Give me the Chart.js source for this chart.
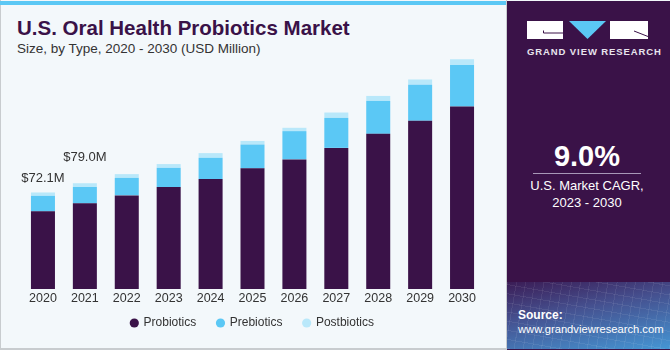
<!DOCTYPE html>
<html>
<head>
<meta charset="utf-8">
<script src="https://cdn.jsdelivr.net/npm/chart.js@4.4.0/dist/chart.umd.min.js"></script>
<style>
html,body{margin:0;padding:0;}
body{width:670px;height:350px;position:relative;overflow:hidden;background:#f3f8fb;font-family:"Liberation Sans",Arial,sans-serif;}
#frame{position:absolute;left:0;top:0;width:507px;height:350px;border-left:1px solid #c8cccf;border-bottom:2px solid #c8cccf;border-right:1px solid #c8cccf;box-sizing:border-box;}
#stripe{position:absolute;left:0;top:1px;width:506px;height:4px;background:#5bc8f5;}
#title{position:absolute;left:17px;top:18px;font-size:20.5px;line-height:20px;font-weight:bold;color:#3a1248;white-space:nowrap;}
#subtitle{position:absolute;left:17px;top:41px;font-size:13.5px;line-height:16px;color:#333;white-space:nowrap;}
#chartbox{position:absolute;left:0;top:0;width:500px;height:350px;}
#panel{position:absolute;left:507px;top:1px;width:163px;height:349px;background:#3a1248;}
#logo{position:absolute;left:0;top:0;}
#brand{position:absolute;left:20px;top:45px;width:121px;text-align:center;font-size:9.5px;line-height:12px;font-weight:bold;color:#e8e4ee;letter-spacing:0.9px;white-space:nowrap;}
#cagr{position:absolute;left:0;top:140px;width:160px;text-align:center;font-size:29px;line-height:30px;font-weight:bold;color:#fff;}
#divider{position:absolute;left:26px;top:172px;width:108px;height:1px;background:#a898b8;}
#cagrtxt{position:absolute;left:0;top:177px;width:160px;text-align:center;font-size:13px;line-height:16.5px;color:#fff;}
#source{position:absolute;left:0;top:281px;width:163px;height:67px;
 background:
  repeating-linear-gradient(100deg, rgba(255,255,255,0.07) 0 1px, transparent 1px 9px),
  repeating-linear-gradient(10deg, rgba(255,255,255,0.07) 0 1px, transparent 1px 9px),
  linear-gradient(170deg,#3b1c55 0%,#45508f 40%,#4596d4 100%);}
#src1{position:absolute;left:11px;top:26px;font-size:12px;line-height:15px;font-weight:bold;color:#fff;}
#src2{position:absolute;left:11px;top:40px;font-size:11.2px;line-height:15px;color:#fff;white-space:nowrap;}
</style>
</head>
<body>
<div id="frame"></div>
<div id="stripe"></div>
<div id="title">U.S. Oral Health Probiotics Market</div>
<div id="subtitle">Size, by Type, 2020 - 2030 (USD Million)</div>
<div id="chartbox"><canvas id="c" width="500" height="350"></canvas></div>
<div id="panel">
  <svg id="logo" width="163" height="45" xmlns="http://www.w3.org/2000/svg">
    <rect x="20" y="20" width="36" height="18" fill="#ffffff"/>
    <path d="M36.5 29.5 L36.5 32 L56 32" stroke="#3a1248" stroke-width="1" fill="none"/>
    <polygon points="62,20 99,20 80.5,38" fill="#5bc8f5"/>
    <rect x="103" y="20" width="38" height="18" fill="#ffffff"/>
    <path d="M127 30 L141 35.5" stroke="#3a1248" stroke-width="1" fill="none"/>
  </svg>
  <div id="brand">GRAND VIEW RESEARCH</div>
  <div id="cagr">9.0%</div>
  <div id="divider"></div>
  <div id="cagrtxt">U.S. Market CAGR,<br>2023 - 2030</div>
  <div id="source">
    <div id="src1">Source:</div>
    <div id="src2">www.grandviewresearch.com</div>
  </div>
</div>
<script>
const years = ['2020','2021','2022','2023','2024','2025','2026','2027','2028','2029','2030'];
const probiotics  = [58.0, 64.0, 69.9, 76.1, 82.1, 90.1, 96.8, 105.4, 115.9, 125.6, 136.3];
const prebiotics  = [11.6, 12.2, 13.1, 14.4, 15.9, 17.8, 21.1, 22.4, 24.6, 26.9, 31.0];
const postbiotics = [2.5, 2.8, 2.8, 2.8, 3.5, 2.7, 2.5, 4.0, 3.7, 4.0, 4.3];
const seriesNames = ['Probiotics','Prebiotics','Postbiotics'];
const seriesColors = ['#3a1248','#5bc8f5','#b9e8fa'];
const labeledYears = ['2020','2021'];
const labelOffsets = [14, 26];

const valueLabels = {
  id: 'valueLabels',
  afterDatasetsDraw(chart) {
    const ctx = chart.ctx;
    const meta = chart.getDatasetMeta(2);
    labeledYears.forEach((yr, k) => {
      const i = years.indexOf(yr);
      const total = probiotics[i] + prebiotics[i] + postbiotics[i];
      const bar = meta.data[i];
      ctx.save();
      ctx.font = '13px "Liberation Sans", Arial, sans-serif';
      ctx.fillStyle = '#333333';
      ctx.textAlign = 'center';
      ctx.textBaseline = 'middle';
      ctx.fillText('$' + total.toFixed(1) + 'M', bar.x, bar.y - labelOffsets[k]);
      ctx.restore();
    });
  }
};

// pull the legend up a little, closer to the axis labels
const legendShift = {
  id: 'legendShift',
  afterLayout(chart) {
    const lg = chart.legend;
    if (lg) { lg.top -= 10; lg.bottom -= 10; }
  }
};

new Chart(document.getElementById('c'), {
  type: 'bar',
  data: {
    labels: years,
    datasets: [
      {label: seriesNames[0], data: probiotics, backgroundColor: seriesColors[0], borderWidth: 0},
      {label: seriesNames[1], data: prebiotics, backgroundColor: seriesColors[1], borderWidth: 0},
      {label: seriesNames[2], data: postbiotics, backgroundColor: seriesColors[2], borderWidth: 0}
    ]
  },
  options: {
    responsive: false,
    animation: false,
    layout: {padding: {top: 48, left: 22, right: 17, bottom: 1}},
    datasets: {bar: {categoryPercentage: 1.0, barPercentage: 0.573}},
    scales: {
      x: {
        stacked: true,
        grid: {display: false, drawTicks: false},
        border: {display: false},
        ticks: {color: '#333333', font: {family: '"Liberation Sans", Arial, sans-serif', size: 12.5}, padding: 2},
        afterFit: (s) => { s.height = 17; }
      },
      y: {stacked: true, display: false, min: 0, max: 180}
    },
    plugins: {
      legend: {
        position: 'bottom',
        labels: {
          usePointStyle: true, pointStyle: 'circle', boxWidth: 6.5, boxHeight: 6.5, padding: 21,
          color: '#333333', font: {family: '"Liberation Sans", Arial, sans-serif', size: 12}
        }
      },
      tooltip: {enabled: false}
    }
  },
  plugins: [valueLabels, legendShift]
});
</script>
</body>
</html>
